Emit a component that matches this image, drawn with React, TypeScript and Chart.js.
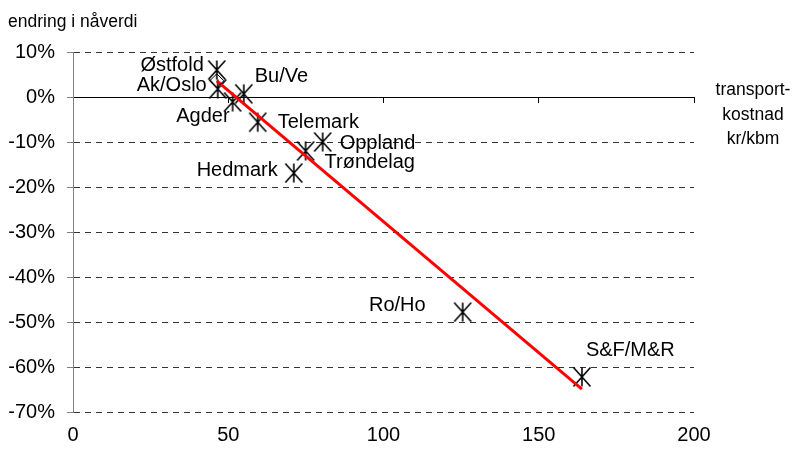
import React, { useEffect, useRef } from "react";
import { Chart, registerables } from "chart.js";

Chart.register(...registerables);

// ---- data ----
const regions = ["Østfold", "Ak/Oslo", "Agder", "Bu/Ve", "Telemark", "Oppland", "Trøndelag", "Hedmark", "Ro/Ho", "S&F/M&R"];
const transportCost = [46.3, 46.6, 51.4, 55.0, 59.5, 80.4, 74.9, 71.1, 125.5, 163.9];
const valueChange = [6.0, 1.8, -1.1, 0.7, -5.6, -10.0, -12.0, -16.9, -47.8, -62.2];
const trendX = [46.3, 163.9];
const trendY = [3.6, -64.9];
const yTitle = "endring i nåverdi";
const xTitleLines = ["transport-", "kostnad", "kr/kbm"];

// ---- label placement (style only) ----
const labelPlacement: { dx: number; dy: number; align: CanvasTextAlign }[] = [
  { dx: -13, dy: -5, align: "right" },
  { dx: -11, dy: -3, align: "right" },
  { dx: -3, dy: 15, align: "right" },
  { dx: 11, dy: -17, align: "left" },
  { dx: 20, dy: 0, align: "left" },
  { dx: 17, dy: 1, align: "left" },
  { dx: 19, dy: 11, align: "left" },
  { dx: -16, dy: -3, align: "right" },
  { dx: -37, dy: -7, align: "right" },
  { dx: 4, dy: -26, align: "left" },
];

const FONT = "'Liberation Sans', Arial, sans-serif";

function makeStarMarker(): HTMLCanvasElement {
  const c = document.createElement("canvas");
  c.width = 20;
  c.height = 22;
  const g = c.getContext("2d")!;
  g.strokeStyle = "#000";
  g.lineWidth = 1.6;
  g.beginPath();
  g.moveTo(1.5, 1.5);
  g.lineTo(18.5, 20.5);
  g.moveTo(18.5, 1.5);
  g.lineTo(1.5, 20.5);
  g.moveTo(10, 1.5);
  g.lineTo(10, 20.5);
  g.stroke();
  return c;
}

const textPlugin = {
  id: "textPlugin",
  afterDatasetsDraw(chart: any) {
    const ctx = chart.ctx;
    const meta = chart.getDatasetMeta(1);
    ctx.save();
    ctx.fillStyle = "#000";
    ctx.font = `20px ${FONT}`;
    ctx.textBaseline = "middle";
    meta.data.forEach((pt: any, i: number) => {
      const p = labelPlacement[i];
      ctx.textAlign = p.align;
      ctx.fillText(regions[i], pt.x + p.dx, pt.y + p.dy);
    });
    ctx.textBaseline = "alphabetic";
    ctx.textAlign = "left";
    ctx.font = `17.5px ${FONT}`;
    ctx.fillText(yTitle, 8, 27);
    ctx.textAlign = "center";
    ctx.font = `17.5px ${FONT}`;
    xTitleLines.forEach((line, i) => {
      ctx.fillText(line, 753, 95 + i * 24.5);
    });
    ctx.restore();
  },
};

export default function App() {
  const ref = useRef<HTMLCanvasElement>(null);
  useEffect(() => {
    const marker = makeStarMarker();
    const chart = new Chart(ref.current!, {
      type: "scatter",
      data: {
        datasets: [
          {
            type: "line",
            label: "trend",
            data: trendX.map((x, i) => ({ x, y: trendY[i] })),
            borderColor: "#ff0000",
            borderWidth: 3,
            showLine: true,
            fill: false,
            pointStyle: "rectRot",
            pointRadius: [7, 0],
            pointBorderColor: "#000",
            pointBackgroundColor: "rgba(0,0,0,0)",
            pointBorderWidth: 1,
            order: 0,
          },
          {
            label: "regions",
            data: transportCost.map((x, i) => ({ x, y: valueChange[i] })),
            pointStyle: marker as any,
            pointRadius: 9,
            order: 1,
          },
        ],
      },
      options: {
        responsive: false,
        animation: false,
        layout: { padding: { left: 0, top: 52, right: 98, bottom: 0 } },
        plugins: { legend: { display: false }, tooltip: { enabled: false } },
        scales: {
          x: {
            type: "linear",
            position: { y: 0 } as any,
            min: 0,
            max: 200,
            ticks: { display: false, stepSize: 50 },
            grid: { drawOnChartArea: false, drawTicks: true, tickLength: 5, tickColor: "#000" },
            border: { color: "#000", width: 1 },
          },
          x2: {
            type: "linear",
            axis: "x",
            position: "bottom",
            min: 0,
            max: 200,
            ticks: { stepSize: 50, padding: 3, color: "#000", font: { family: FONT, size: 20 } },
            grid: { display: false },
            border: { display: false },
            afterFit: (s: any) => {
              s.height = 39;
            },
          },
          y: {
            type: "linear",
            min: -70,
            max: 10,
            ticks: {
              stepSize: 10,
              padding: 12,
              color: "#000",
              font: { family: FONT, size: 20 },
              callback: (v: any) => `${v}%`,
            },
            grid: { color: "#333", tickColor: "#808080", tickLength: 6, lineWidth: 1 },
            border: { color: "#808080", width: 1, dash: [6, 5] },
            afterFit: (s: any) => {
              s.width = 73;
            },
          },
        } as any,
      },
      plugins: [textPlugin],
    });
    return () => chart.destroy();
  }, []);
  return (
    <div style={{ position: "absolute", left: 0, top: 0, width: 792, height: 451 }}>
      <canvas ref={ref} width={792} height={451} />
    </div>
  );
}
